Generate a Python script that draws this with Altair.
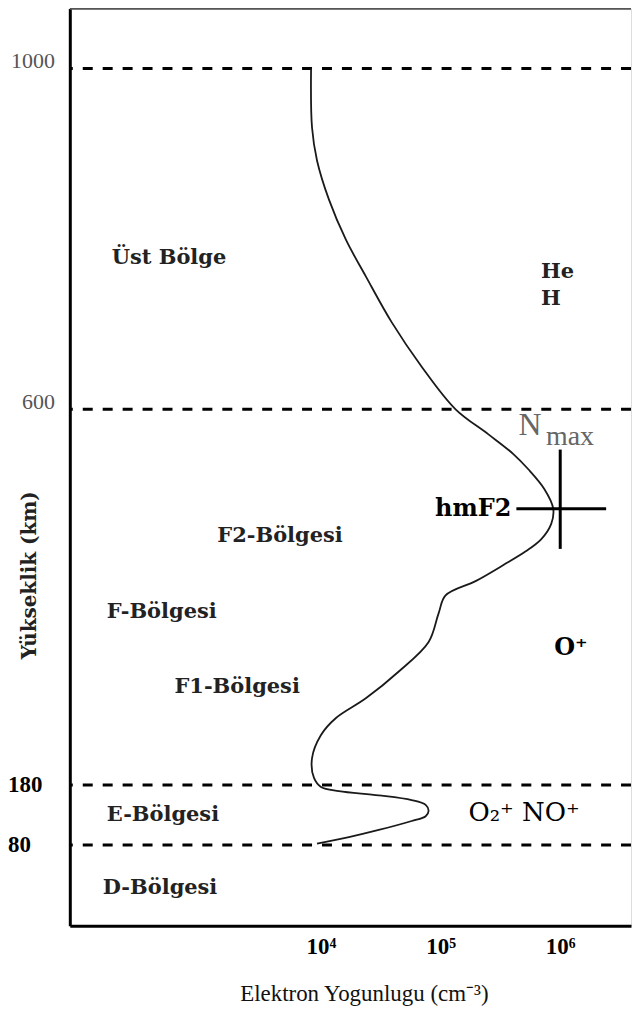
import altair as alt
import pandas as pd

# --- electron density profile (altitude km, density cm^-3) ---
altitude_km = [1000, 931, 892, 846, 799, 756, 702, 650, 600, 572,
               550, 533, 511, 489, 472, 455, 441, 426, 408, 392,
               372, 340, 307, 277, 255, 236, 210, 188, 177, 170,
               163, 155, 147, 137, 128, 120, 105, 93, 82]
density = [8260, 8410, 9260, 11660, 16150, 23700, 39060, 69450, 133400, 251200,
           405700, 541000, 736000, 874000, 841000, 695000, 511000, 335000, 196000, 110000,
           96200, 79400, 44700, 23700, 13340, 10000, 8410, 8740, 10000, 14130,
           30400, 57300, 75000, 79400, 75000, 57300, 30400, 17100, 9260]

# region boundaries (dashed lines) and y tick labels
boundary_alt = [1000, 600, 180, 80]
ytick_upper_vals = [1000, 600]
ytick_upper_text = ["1000", "600"]
ytick_lower_vals = [180, 80]
ytick_lower_text = ["180", "80"]

# x ticks
xtick_vals = [1e4, 1e5, 1e6]
xtick_text = ["10⁴", "10⁵", "10⁶"]

# hmF2 / Nmax cross
nmax = 1e6
hmf2 = 489
cross_alt_range = [444, 555]
cross_n_range = [4.3e5, 2.42e6]

# region annotations
region_text = ["Üst Bölge", "F2-Bölgesi", "F-Bölgesi", "F1-Bölgesi", "E-Bölgesi", "D-Bölgesi", "He", "H"]
region_n = [178, 1360, 162, 596, 162, 150, 6.9e5, 6.9e5]
region_alt = [778, 458, 373, 290, 130, 37, 761, 729]

ion_text = ["O⁺"]
ion_n = [8.9e5]
ion_alt = [333]

mol_text = ["O₂⁺ NO⁺"]
mol_n = [1.71e5]
mol_alt = [133]

hm_text = ["hmF2"]
hm_n = [3.9e5]
hm_alt = [489]

nmax_text = ["N", "max"]
nmax_n = [4.47e5, 7.6e5]
nmax_alt = [582, 569]

# ---------------- scales / encodings ----------------
W, H = 563, 920
x_scale = alt.Scale(type="log", domain=[79.43, 3.906e6], nice=False)
y_scale = alt.Scale(type="linear", domain=[0, 80, 180, 600, 1000, 1070],
                    range=[920, 839, 779, 402, 60, 0], nice=False, zero=False)

label_expr = " : ".join(
    [f"datum.value == {v} ? '{t}'" for v, t in zip(xtick_vals, xtick_text)]
) + " : ''"

x_axis = alt.Axis(values=xtick_vals, labelExpr=label_expr, grid=False, ticks=False,
                  domainColor="black", domainWidth=3,
                  labelFont="Liberation Serif", labelFontSize=23, labelFontWeight="bold",
                  labelColor="black", labelPadding=10, labelBaseline="top",
                  title="Elektron Yogunlugu (cm⁻³)", titleFont="Liberation Serif",
                  titleFontSize=23, titleFontWeight="normal", titleColor="#111",
                  titleX=295, titleY=68, titleAlign="center", titleBaseline="middle")
y_axis = alt.Axis(labels=False, ticks=False, grid=False, domainColor="black", domainWidth=3,
                  title="Yükseklik (km)", titleFont="DejaVu Serif", titleFontSize=20,
                  titleFontWeight="bold", titleColor="#222", titleAngle=270,
                  titleX=-40, titleY=568, titleAlign="center", titleBaseline="middle")

X = alt.X("N:Q", scale=x_scale, axis=x_axis)
Y = alt.Y("alt:Q", scale=y_scale, axis=y_axis)

# ---------------- layers ----------------
profile_df = pd.DataFrame({"alt": altitude_km, "N": density})
profile = alt.Chart(profile_df).mark_line(
    color="#1a1a1a", strokeWidth=1.8, interpolate="catmull-rom"
).encode(x=X, y=Y, order=alt.Order("alt:Q", sort="descending"))

bound_df = pd.DataFrame({"alt": boundary_alt})
bounds = alt.Chart(bound_df).mark_rule(
    color="black", strokeWidth=3, strokeDash=[10, 10]
).encode(y=Y)

top_border = alt.Chart(pd.DataFrame({"alt": [1070]})).mark_rule(
    color="#555", strokeWidth=2.5
).encode(y=Y)

vcross = alt.Chart(pd.DataFrame({"N": [nmax], "alt": [cross_alt_range[0]],
                                 "alt2": [cross_alt_range[1]]})).mark_rule(
    color="black", strokeWidth=3
).encode(x=X, y=Y, y2="alt2:Q")
hcross = alt.Chart(pd.DataFrame({"N": [cross_n_range[0]], "N2": [cross_n_range[1]],
                                 "alt": [hmf2]})).mark_rule(
    color="black", strokeWidth=3
).encode(x=X, x2="N2:Q", y=Y)

def text_layer(texts, ns, alts, **kw):
    df = pd.DataFrame({"label": texts, "N": ns, "alt": alts})
    return alt.Chart(df).mark_text(baseline="middle", **kw).encode(x=X, y=Y, text="label:N")

regions = text_layer(region_text, region_n, region_alt, align="left", font="DejaVu Serif",
                     fontSize=21, fontWeight="bold", color="#222")
ions = text_layer(ion_text, ion_n, ion_alt, align="left", font="DejaVu Serif",
                  fontSize=24, fontWeight="bold", color="black")
mols = text_layer(mol_text, mol_n, mol_alt, align="left", font="DejaVu Serif",
                  fontSize=26, fontWeight="normal", color="black")
hm = text_layer(hm_text, hm_n, hm_alt, align="right", font="DejaVu Serif",
                fontSize=24, fontWeight="bold", color="black")
nmax_big = text_layer(nmax_text[:1], nmax_n[:1], nmax_alt[:1], align="left",
                      font="Liberation Serif", fontSize=32, color="#666")
nmax_sub = text_layer(nmax_text[1:], nmax_n[1:], nmax_alt[1:], align="left",
                      font="Liberation Serif", fontSize=28, color="#666")

yl_upper = alt.Chart(pd.DataFrame({"alt": ytick_upper_vals, "label": ytick_upper_text})).mark_text(
    align="right", baseline="middle", dy=-7, font="Liberation Serif", fontSize=22, color="#555"
).encode(x=alt.value(-15), y=Y, text="label:N")
yl_lower = alt.Chart(pd.DataFrame({"alt": ytick_lower_vals, "label": ytick_lower_text})).mark_text(
    align="left", baseline="middle", font="Liberation Serif", fontSize=23, fontWeight="bold",
    color="black"
).encode(x=alt.value(-62), y=Y, text="label:N")

chart = alt.layer(
    bounds, top_border, profile, vcross, hcross,
    regions, ions, mols, hm, nmax_big, nmax_sub, yl_upper, yl_lower
).properties(
    width=W, height=H, padding={"top": -3, "left": 0, "right": 0, "bottom": 0}
).configure_view(stroke=None).configure(background="white")

chart.save("out.html", embed_options={"renderer": "svg", "actions": False})
